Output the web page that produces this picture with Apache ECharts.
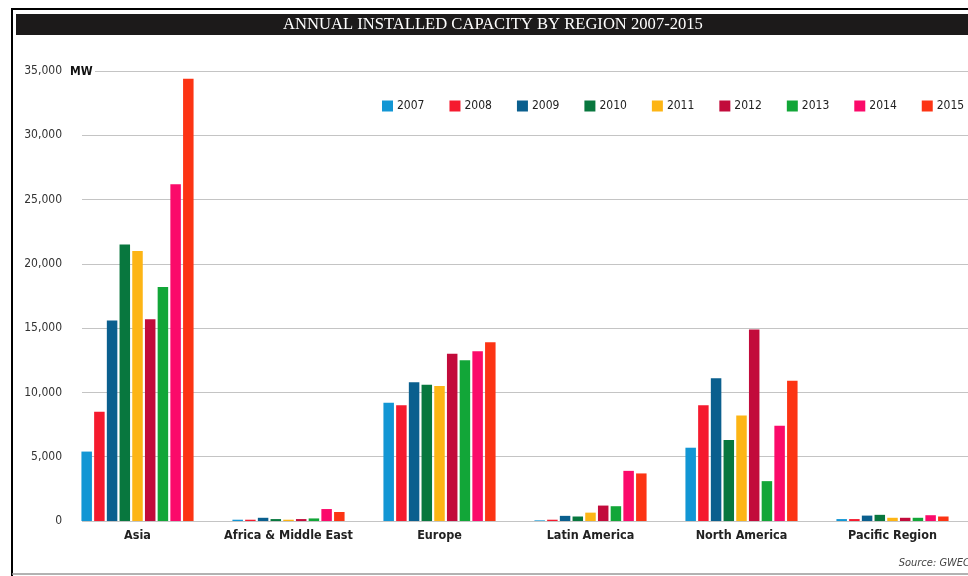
<!DOCTYPE html>
<html>
<head>
<meta charset="utf-8">
<script src="https://cdn.jsdelivr.net/npm/echarts@6/dist/echarts.min.js"></script>
<style>
html,body{margin:0;padding:0;background:#fff;}
#c{width:968px;height:576px;}
</style>
</head>
<body>
<div id="c"></div>
<script>
const regions = ['Asia', 'Africa & Middle East', 'Europe', 'Latin America', 'North America', 'Pacific Region'];
const years = ['2007', '2008', '2009', '2010', '2011', '2012', '2013', '2014', '2015'];
const yTicks = [0, 5000, 10000, 15000, 20000, 25000, 30000, 35000];
const v2007 = [5400, 100, 9200, 50, 5700, 150];
const v2008 = [8500, 100, 9000, 100, 9000, 150];
const v2009 = [15600, 250, 10800, 400, 11100, 420];
const v2010 = [21500, 150, 10600, 350, 6300, 480];
const v2011 = [21000, 100, 10500, 650, 8200, 250];
const v2012 = [15700, 150, 13000, 1200, 14900, 250];
const v2013 = [18200, 200, 12500, 1150, 3100, 250];
const v2014 = [26200, 930, 13200, 3900, 7400, 450];
const v2015 = [34400, 700, 13900, 3700, 10900, 350];
const seriesValues = [v2007, v2008, v2009, v2010, v2011, v2012, v2013, v2014, v2015];
const colors = ['#1296d4', '#f51a2e', '#0a5f8e', '#08773e', '#fdb515', '#c20b3b', '#12a638', '#fb0a6a', '#fc3414'];

const narrow = '"DejaVu Sans Condensed", "Liberation Sans Narrow", sans-serif';
const chart = echarts.init(document.getElementById('c'), null, {renderer: 'canvas'});
const option = {
  animation: false,
  backgroundColor: '#fff',
  color: colors,
  legend: {
    data: years,
    left: 377, top: 95, width: 620,
    itemWidth: 11, itemHeight: 11, itemGap: 25,
    icon: 'rect',
    textStyle: {fontFamily: narrow, fontSize: 12, color: '#222', padding: [0, 0, 0, -1]}
  },
  grid: [
    {left: 62, right: -6, top: 71, bottom: 55},
    {left: 82, right: 0, top: 71, bottom: 55}
  ],
  xAxis: [
    {type: 'category', gridIndex: 0, data: regions,
     axisLine: {show: false}, axisTick: {show: false},
     axisLabel: {interval: 0, fontFamily: narrow, fontWeight: 'bold', fontSize: 12.5, color: '#222', margin: 8}},
    {type: 'value', gridIndex: 1, show: false, min: 0, max: 1}
  ],
  yAxis: [
    {type: 'value', gridIndex: 0, min: 0, max: 35000, show: false},
    {type: 'value', gridIndex: 1, min: yTicks[0], max: yTicks[yTicks.length - 1], interval: 5000,
     axisLine: {show: false}, axisTick: {show: false},
     splitLine: {lineStyle: {color: '#c4c4c4', width: 1.2}},
     axisLabel: {margin: 20, fontFamily: narrow, fontSize: 12, color: '#333',
       formatter: v => v === 0 ? '0' : v.toLocaleString('en-US')}}
  ],
  series: years.map((y, i) => ({
    name: y, type: 'bar', xAxisIndex: 0, yAxisIndex: 0,
    data: seriesValues[i], barWidth: 10.5, barGap: '21%',
    itemStyle: {color: colors[i]}
  })),
  graphic: [
    {type: 'rect', shape: {x: 12, y: 9, width: 970, height: 570}, style: {fill: 'none', stroke: '#000', lineWidth: 2}, z: 100},
    {type: 'line', shape: {x1: 12, y1: 574, x2: 968, y2: 574}, style: {stroke: '#999', lineWidth: 1.5}, z: 100},
    {type: 'rect', shape: {x: 16, y: 14, width: 960, height: 21}, style: {fill: '#1c1a1a'}, z: 100},
    {type: 'text', x: 493, y: 25, style: {text: 'ANNUAL INSTALLED CAPACITY BY REGION 2007-2015', fill: '#fff', font: '16.6px "Liberation Serif", serif', textAlign: 'center', textVerticalAlign: 'middle'}, z: 101},
    {type: 'rect', shape: {x: 68, y: 64, width: 27, height: 14}, style: {fill: '#fff'}, z: 100},
    {type: 'text', x: 70, y: 72, style: {text: 'MW', fill: '#111', font: 'bold 12px ' + narrow, textVerticalAlign: 'middle'}, z: 101},
    {type: 'text', x: 970, y: 563, style: {text: 'Source: GWEC', fill: '#444', font: 'italic 11px ' + narrow, textAlign: 'right', textVerticalAlign: 'middle'}, z: 101}
  ]
};
chart.setOption(option);
</script>
</body>
</html>
